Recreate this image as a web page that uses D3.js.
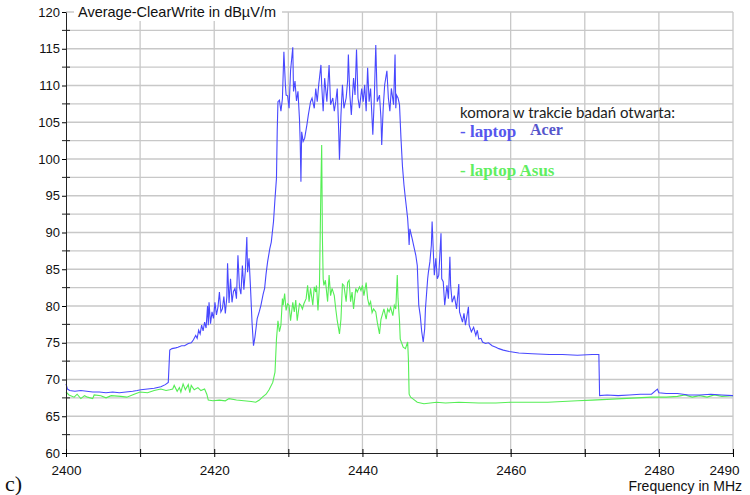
<!DOCTYPE html>
<html>
<head>
<meta charset="utf-8">
<script src="https://cdn.jsdelivr.net/npm/d3@7"></script>
<style>
  body { margin: 0; background: #fff; }
  svg { display: block; }
</style>
</head>
<body>
<div id="chart"></div>
<script>
// spectrum measurement: average-clearwrite, chamber open
// data read from the picture, [frequency MHz, level dBuV/m]

const yTicks = [60, 65, 70, 75, 80, 85, 90, 95, 100, 105, 110, 115, 120];
const xTicks = [2400, 2410, 2420, 2430, 2440, 2450, 2460, 2470, 2480, 2490];
const xLabels = [2400, 2420, 2440, 2460, 2480, 2490];

// laptop Acer (blue)
const acer = [
  [2400.0, 69.4], [2400.2, 68.7], [2400.5, 68.5], [2401.2, 68.4], [2402.0, 68.5], [2402.8, 68.4],
  [2403.6, 68.3], [2404.5, 68.3], [2405.4, 68.2], [2406.3, 68.3], [2407.2, 68.2], [2408.1, 68.3],
  [2409.0, 68.4], [2409.6, 68.5], [2410.1, 68.6], [2411.0, 68.7], [2411.9, 68.8], [2412.8, 69.0],
  [2413.4, 69.3], [2413.8, 69.6], [2414.0, 74.0], [2414.3, 74.2], [2414.8, 74.3], [2415.1, 74.4],
  [2415.6, 74.6], [2416.0, 74.6], [2416.5, 74.9], [2416.9, 75.0], [2417.2, 75.4], [2417.5, 76.0],
  [2417.7, 75.6], [2417.9, 76.7], [2418.1, 76.2], [2418.3, 77.4], [2418.5, 76.6], [2418.7, 77.8],
  [2418.9, 77.0], [2419.1, 80.0], [2419.2, 77.4], [2419.3, 80.5], [2419.5, 77.6], [2419.7, 79.2],
  [2419.9, 78.3], [2420.1, 80.5], [2420.3, 78.8], [2420.5, 79.8], [2420.7, 81.9], [2420.9, 79.2],
  [2421.1, 79.6], [2421.3, 81.3], [2421.5, 79.0], [2421.7, 81.2], [2421.8, 85.8], [2422.0, 80.4],
  [2422.2, 83.7], [2422.4, 80.5], [2422.6, 82.0], [2422.8, 82.4], [2423.0, 81.0], [2423.2, 86.9],
  [2423.4, 82.6], [2423.6, 81.6], [2423.8, 85.5], [2424.0, 82.2], [2424.2, 84.8], [2424.4, 89.4],
  [2424.5, 84.6], [2424.7, 86.5], [2424.9, 82.4], [2425.1, 77.8], [2425.3, 74.6], [2425.5, 75.8],
  [2425.8, 78.3], [2426.1, 79.3], [2426.3, 80.1], [2426.6, 81.6], [2426.8, 82.4], [2427.0, 84.4],
  [2427.2, 86.0], [2427.5, 87.8], [2427.7, 88.7], [2428.0, 91.5], [2428.2, 94.6], [2428.4, 97.4],
  [2428.5, 103.8], [2428.6, 107.8], [2428.8, 108.0], [2429.0, 106.5], [2429.2, 108.2], [2429.4, 114.6],
  [2429.6, 110.1], [2429.7, 108.7], [2429.9, 108.6], [2430.1, 106.9], [2430.3, 112.0], [2430.6, 115.2],
  [2430.7, 109.2], [2430.9, 110.6], [2431.1, 107.9], [2431.3, 109.2], [2431.5, 105.5], [2431.6, 102.4],
  [2431.7, 96.9], [2431.8, 103.7], [2432.0, 102.4], [2432.2, 102.8], [2432.5, 104.6], [2432.7, 106.0],
  [2433.0, 107.8], [2433.2, 108.3], [2433.5, 106.9], [2433.7, 109.6], [2433.9, 107.8], [2434.1, 110.1],
  [2434.4, 112.8], [2434.5, 110.1], [2434.7, 106.5], [2434.9, 111.0], [2435.2, 107.8], [2435.5, 112.8],
  [2435.7, 107.4], [2436.0, 108.3], [2436.2, 106.5], [2436.4, 107.8], [2436.6, 109.6], [2436.8, 103.7],
  [2436.9, 99.9], [2437.1, 106.0], [2437.3, 110.1], [2437.5, 106.9], [2437.8, 108.3], [2438.0, 110.6],
  [2438.1, 114.2], [2438.3, 108.7], [2438.5, 106.0], [2438.8, 111.0], [2439.0, 108.7], [2439.2, 114.9],
  [2439.4, 108.3], [2439.6, 106.9], [2439.9, 109.6], [2440.1, 107.8], [2440.3, 110.1], [2440.5, 106.5],
  [2440.7, 112.4], [2440.9, 107.8], [2441.1, 109.6], [2441.4, 103.3], [2441.6, 108.3], [2441.8, 115.5],
  [2442.0, 107.8], [2442.3, 108.7], [2442.5, 105.5], [2442.6, 101.9], [2442.8, 106.9], [2443.0, 110.1],
  [2443.3, 112.0], [2443.5, 108.3], [2443.7, 106.5], [2443.9, 109.6], [2444.2, 107.4], [2444.4, 114.2],
  [2444.5, 106.9], [2444.6, 108.7], [2444.8, 108.3], [2445.0, 107.4], [2445.2, 102.8], [2445.4, 99.0],
  [2445.6, 96.5], [2445.8, 94.6], [2445.9, 93.7], [2446.1, 91.9], [2446.2, 90.3], [2446.3, 88.3],
  [2446.4, 90.5], [2446.7, 89.2], [2447.0, 87.8], [2447.2, 86.9], [2447.4, 85.5], [2447.5, 82.8],
  [2447.6, 80.1], [2447.8, 78.7], [2448.0, 76.5], [2448.2, 75.1], [2448.4, 76.9], [2448.5, 79.6],
  [2448.8, 83.7], [2448.9, 84.6], [2449.1, 86.0], [2449.3, 88.3], [2449.4, 91.5], [2449.6, 86.5],
  [2449.7, 84.2], [2449.9, 86.5], [2450.1, 83.7], [2450.3, 84.2], [2450.6, 89.9], [2450.7, 83.7],
  [2450.9, 83.3], [2451.1, 80.1], [2451.4, 82.8], [2451.6, 81.0], [2451.8, 86.7], [2451.9, 82.8],
  [2452.1, 80.5], [2452.4, 81.4], [2452.7, 79.6], [2453.0, 83.0], [2453.1, 79.2], [2453.5, 77.8],
  [2453.7, 79.0], [2453.9, 77.4], [2454.3, 79.9], [2454.4, 77.4], [2454.7, 76.5], [2455.0, 77.1],
  [2455.3, 76.0], [2455.5, 76.7], [2455.7, 75.5], [2456.0, 75.6], [2456.2, 75.1], [2456.6, 74.9],
  [2457.0, 75.0], [2457.5, 74.6], [2458.0, 74.4], [2458.4, 74.2], [2459.0, 74.0], [2459.8, 73.8],
  [2461.1, 73.6], [2462.9, 73.5], [2465.2, 73.4], [2467.0, 73.4], [2469.0, 73.3], [2471.0, 73.4],
  [2471.9, 73.4], [2472.0, 67.8], [2473.0, 67.9], [2474.5, 67.8], [2476.0, 67.9], [2477.5, 68.0],
  [2479.0, 68.0], [2479.8, 68.7], [2480.0, 68.2], [2481.0, 68.1], [2482.5, 68.1], [2484.0, 67.9],
  [2485.5, 67.9], [2487.0, 68.0], [2488.5, 67.9], [2490.0, 67.8]
];

// laptop Asus (green)
const asus = [
  [2400.0, 68.3], [2400.4, 67.9], [2401.1, 67.6], [2401.5, 68.0], [2402.0, 67.4], [2402.5, 67.8],
  [2402.9, 67.6], [2403.6, 67.4], [2403.8, 67.9], [2404.7, 67.8], [2405.4, 67.5], [2406.1, 67.8],
  [2407.4, 67.7], [2408.2, 67.6], [2409.2, 68.0], [2410.0, 68.3], [2411.0, 68.2], [2411.9, 68.5],
  [2412.8, 68.7], [2413.5, 68.5], [2414.0, 68.6], [2414.4, 68.7], [2414.6, 69.2], [2415.0, 68.4],
  [2415.3, 68.9], [2415.5, 68.3], [2415.8, 69.4], [2416.1, 68.6], [2416.5, 69.3], [2416.7, 68.2],
  [2416.9, 69.2], [2417.3, 68.6], [2417.8, 68.9], [2418.2, 68.5], [2418.7, 68.7], [2419.0, 68.0],
  [2419.2, 67.2], [2419.8, 67.1], [2420.7, 67.2], [2421.5, 67.1], [2422.0, 67.4], [2423.0, 67.2],
  [2424.0, 67.1], [2425.0, 67.0], [2425.6, 66.9], [2426.1, 67.2], [2426.5, 67.6], [2427.0, 68.0],
  [2427.4, 68.6], [2427.9, 69.6], [2428.2, 71.0], [2428.4, 75.5], [2428.6, 78.0], [2428.8, 76.5],
  [2429.0, 77.4], [2429.2, 81.0], [2429.3, 80.1], [2429.5, 81.7], [2429.7, 79.4], [2429.9, 80.3],
  [2430.1, 80.1], [2430.3, 78.0], [2430.6, 80.5], [2430.8, 79.2], [2431.0, 80.8], [2431.2, 78.0],
  [2431.5, 80.3], [2431.7, 80.1], [2431.9, 79.6], [2432.1, 80.3], [2432.4, 81.0], [2432.6, 82.8],
  [2432.8, 80.6], [2433.0, 82.4], [2433.3, 80.1], [2433.5, 82.6], [2433.7, 81.9], [2433.8, 82.8],
  [2434.0, 79.4], [2434.2, 82.8], [2434.4, 96.5], [2434.5, 101.9], [2434.6, 89.2], [2434.7, 83.7],
  [2434.8, 82.8], [2435.0, 83.5], [2435.3, 80.6], [2435.5, 84.2], [2435.7, 81.4], [2435.9, 82.4],
  [2436.2, 81.4], [2436.4, 79.6], [2436.6, 78.0], [2436.9, 76.2], [2437.1, 78.2], [2437.3, 83.0],
  [2437.5, 82.8], [2437.8, 80.6], [2438.0, 83.2], [2438.2, 83.5], [2438.4, 80.6], [2438.6, 81.9],
  [2438.8, 79.6], [2439.1, 82.4], [2439.3, 81.9], [2439.6, 82.6], [2439.8, 82.1], [2440.0, 82.8],
  [2440.2, 81.4], [2440.5, 83.2], [2440.7, 81.0], [2440.9, 80.1], [2441.1, 80.6], [2441.3, 79.1],
  [2441.5, 79.6], [2441.8, 79.2], [2442.0, 77.8], [2442.3, 76.2], [2442.5, 78.2], [2442.7, 78.9],
  [2442.9, 79.6], [2443.2, 78.2], [2443.4, 79.6], [2443.6, 79.2], [2443.8, 79.8], [2444.1, 78.7],
  [2444.3, 80.1], [2444.5, 79.6], [2444.7, 84.2], [2444.8, 81.0], [2445.0, 78.0], [2445.1, 75.5],
  [2445.5, 74.4], [2445.8, 74.2], [2446.1, 75.1], [2446.2, 72.8], [2446.3, 68.0], [2446.5, 67.6],
  [2446.9, 67.3], [2447.4, 66.9], [2448.3, 66.7], [2450.0, 66.9], [2451.2, 66.8], [2453.0, 66.9],
  [2455.7, 66.8], [2458.0, 66.8], [2460.0, 66.9], [2462.5, 66.9], [2465.0, 66.9], [2467.0, 67.0],
  [2469.0, 67.1], [2471.0, 67.2], [2473.0, 67.3], [2475.0, 67.4], [2477.0, 67.5], [2479.0, 67.6],
  [2481.0, 67.6], [2482.5, 67.7], [2483.5, 67.9], [2484.5, 67.6], [2485.5, 67.8], [2486.5, 67.6],
  [2487.5, 67.9], [2488.5, 67.7], [2490.0, 67.8]
];

function drawChart() {
  const width = 750;
  const height = 495;

  const svg = d3.select('#chart')
    .append('svg')
    .attr('width', width)
    .attr('height', height);

  // Scales (plot area)
  const x = d3.scaleLinear().domain([2400, 2490]).range([66, 733]);
  const y = d3.scaleLinear().domain([60, 120]).range([453, 12]);

  const font = 'Liberation Sans, Arial, sans-serif';

  // Grid: every 2.5 dB and every 10 MHz
  const grid = svg.append('g')
    .attr('stroke', '#c8c8c8')
    .attr('stroke-width', 1.3);

  grid.selectAll('line.h')
    .data(d3.range(62.5, 120.01, 2.5))
    .join('line')
      .attr('class', 'h')
      .attr('x1', x(2400))
      .attr('x2', x(2490))
      .attr('y1', d => y(d))
      .attr('y2', d => y(d));

  grid.selectAll('line.v')
    .data(xTicks.slice(1))
    .join('line')
      .attr('class', 'v')
      .attr('x1', d => x(d))
      .attr('x2', d => x(d))
      .attr('y1', y(60))
      .attr('y2', y(120));

  // Title sits on a white patch over the top grid line
  svg.append('rect')
    .attr('x', 74)
    .attr('y', 3)
    .attr('width', 208)
    .attr('height', 18)
    .attr('fill', '#fff');

  svg.append('text')
    .attr('x', 78)
    .attr('y', 17)
    .style('font-family', font)
    .style('font-size', '14.5px')
    .attr('fill', '#111')
    .text('Average-ClearWrite in dBµV/m');

  // Traces
  const line = d3.line()
    .x(d => x(d[0]))
    .y(d => y(d[1]));

  svg.append('path')
    .datum(asus)
    .attr('d', line)
    .attr('fill', 'none')
    .attr('stroke', '#55ee55')
    .attr('stroke-width', 1.1);

  svg.append('path')
    .datum(acer)
    .attr('d', line)
    .attr('fill', 'none')
    .attr('stroke', '#4848ff')
    .attr('stroke-width', 1.1);

  // Y axis
  const yAxis = svg.append('g')
    .attr('transform', `translate(${x(2400)},0)`)
    .call(d3.axisLeft(y).tickValues(yTicks).tickSize(4).tickPadding(2).tickSizeOuter(0))
    .style('font-family', font)
    .style('font-size', '13px');
  yAxis.select('.domain').attr('stroke', '#222');
  yAxis.selectAll('.tick text').attr('fill', '#111');

  // minor y ticks at the half steps, crossing the axis
  svg.append('g')
    .attr('stroke', '#222')
    .selectAll('line')
    .data(d3.range(62.5, 120, 5))
    .join('line')
      .attr('x1', x(2400) - 4)
      .attr('x2', x(2400) + 4)
      .attr('y1', d => y(d))
      .attr('y2', d => y(d));

  // X axis
  const xAxis = svg.append('g')
    .attr('transform', `translate(0,${y(60)})`)
    .call(d3.axisBottom(x)
      .tickValues(xTicks)
      .tickFormat(d => xLabels.includes(d) ? d : '')
      .tickSize(4)
      .tickPadding(8)
      .tickSizeOuter(0))
    .style('font-family', font)
    .style('font-size', '13.5px');
  xAxis.select('.domain').attr('stroke', '#222');
  xAxis.selectAll('.tick line').attr('y1', -4);
  xAxis.selectAll('.tick text').attr('fill', '#111');
  // last label is pulled in so it stays on the page
  xAxis.selectAll('.tick text').filter(d => d === 2490).attr('dx', '-9');

  svg.append('text')
    .attr('x', 742)
    .attr('y', 491)
    .attr('text-anchor', 'end')
    .style('font-family', font)
    .style('font-size', '14px')
    .attr('fill', '#111')
    .text('Frequency in MHz');

  svg.append('text')
    .attr('x', 5)
    .attr('y', 491)
    .style('font-family', 'Liberation Serif, serif')
    .style('font-size', '22px')
    .attr('fill', '#111')
    .text('c)');

  // Legend (free text on the plot)
  svg.append('text')
    .attr('x', 460)
    .attr('y', 118)
    .style('font-family', 'Lato, sans-serif')
    .style('font-size', '15px')
    .attr('fill', '#222')
    .text('komora w trakcie badań otwarta:');

  svg.append('text')
    .attr('x', 460)
    .attr('y', 137)
    .style('font-family', 'Liberation Serif, serif')
    .style('font-weight', 'bold')
    .style('font-size', '17px')
    .attr('fill', '#5656ee')
    .text('- laptop');

  svg.append('text')
    .attr('x', 530)
    .attr('y', 135)
    .style('font-family', 'Liberation Serif, serif')
    .style('font-weight', 'bold')
    .style('font-size', '16px')
    .attr('fill', '#5656cc')
    .text('Acer');

  svg.append('text')
    .attr('x', 460)
    .attr('y', 176)
    .style('font-family', 'Liberation Serif, serif')
    .style('font-weight', 'bold')
    .style('font-size', '17px')
    .attr('fill', '#60ee60')
    .text('- laptop Asus');
}

window.onload = () => {
  drawChart();
}
</script>
</body>
</html>
